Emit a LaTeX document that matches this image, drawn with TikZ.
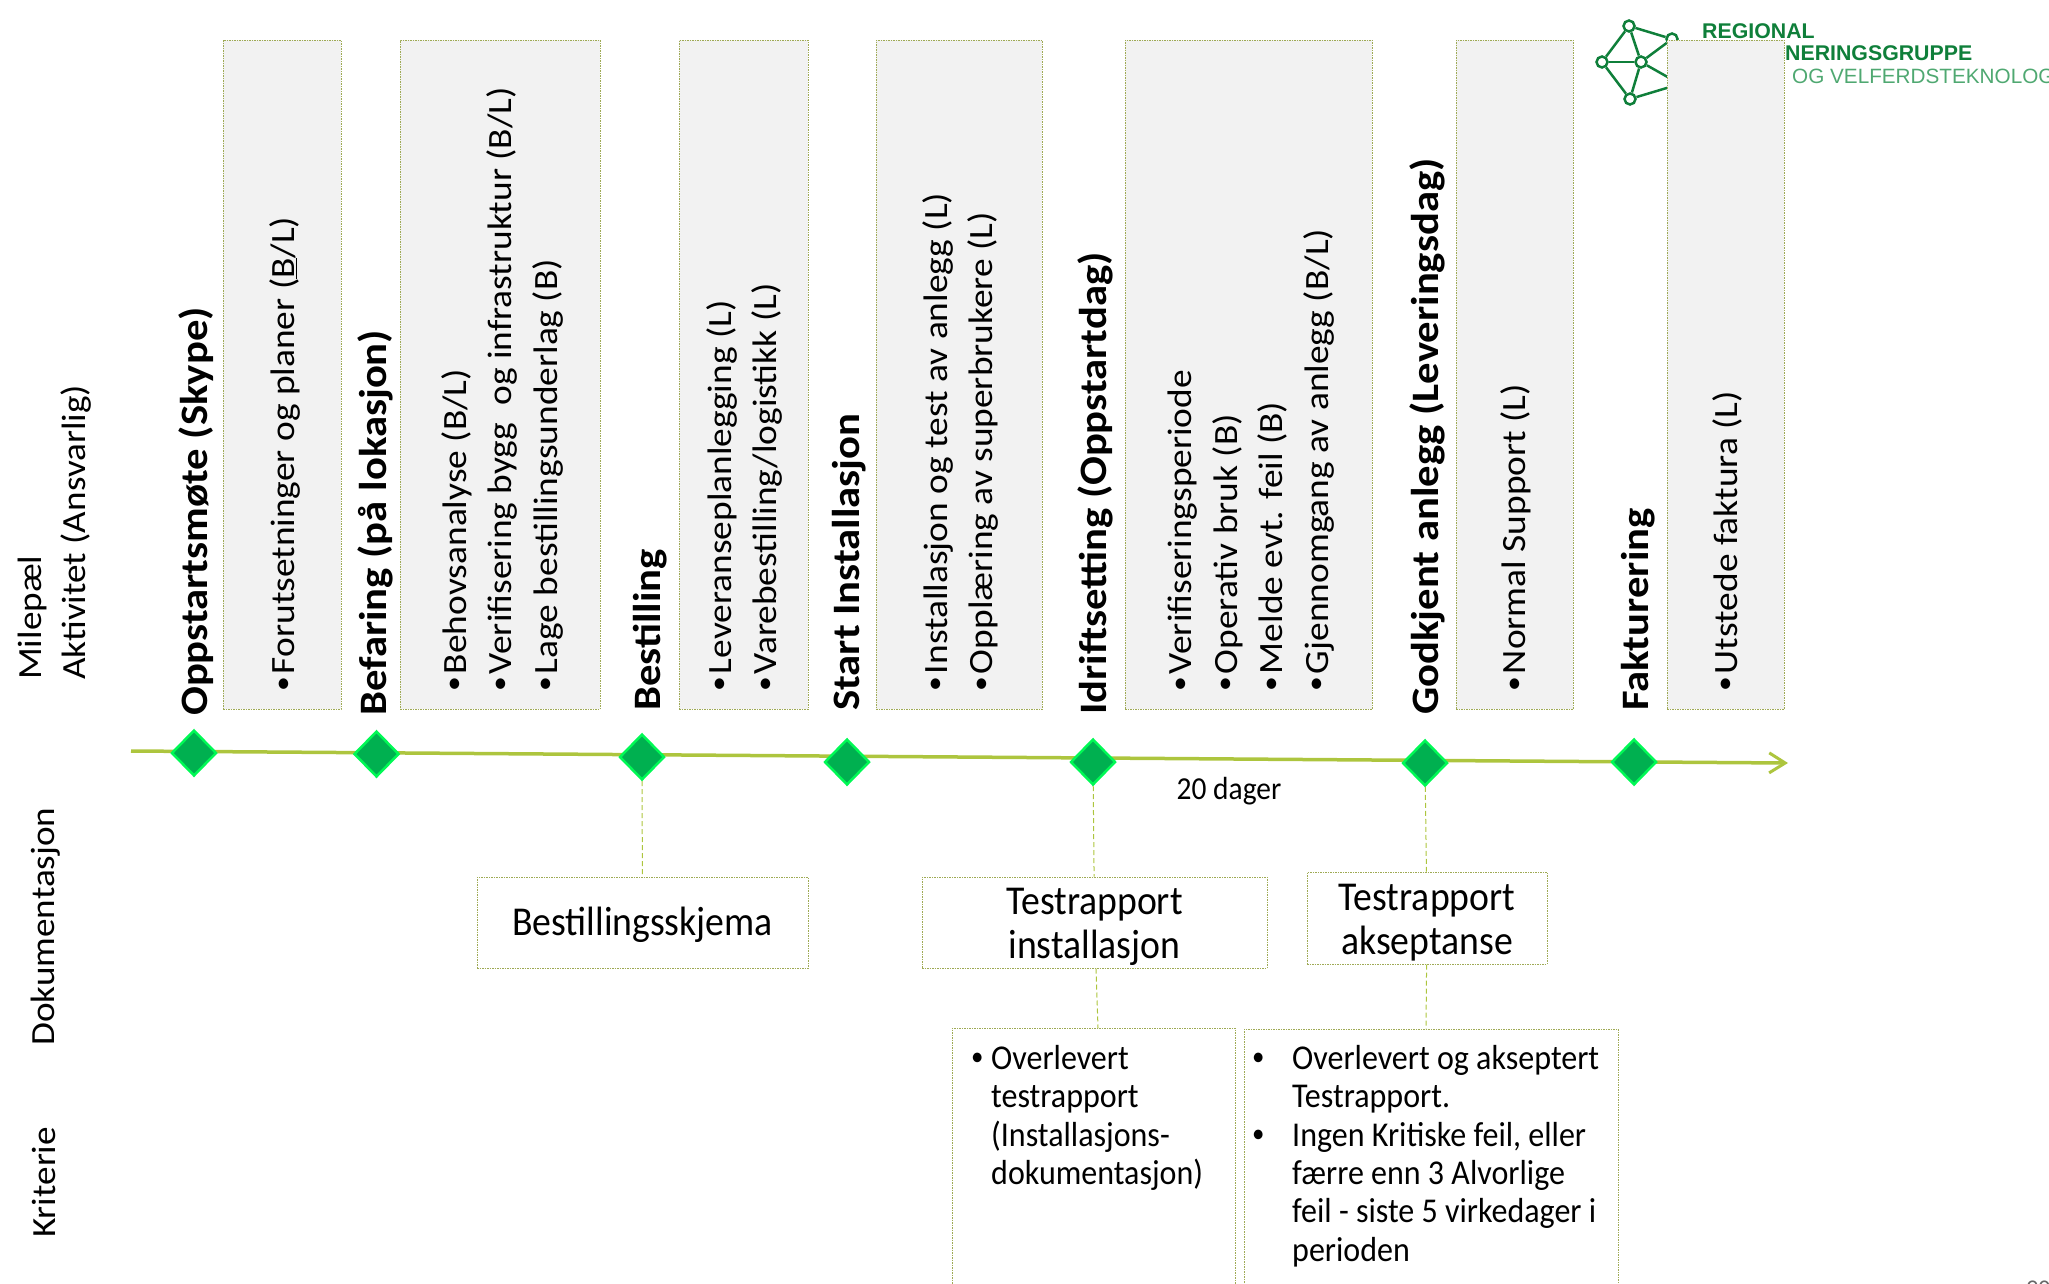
\documentclass[tikz,border=0pt]{standalone}
\usepackage{fontspec}
\setmainfont{Carlito}
\newfontfamily\logofont{Liberation Sans}
\newfontfamily\rotfont[FakeStretch=1.1]{Carlito}
\newfontfamily\flatfont[FakeStretch=0.92]{Carlito}
\usetikzlibrary{shapes.geometric,arrows.meta}
\definecolor{axisgreen}{HTML}{ADC53E}
\definecolor{boxline}{HTML}{9FAA55}
\definecolor{diafill}{HTML}{00B050}
\definecolor{dialine}{HTML}{00F955}
\definecolor{logogreen}{HTML}{0F7F3A}
\definecolor{logolight}{HTML}{4FA871}
\newcommand{\dotmark}{\raisebox{3.5pt}{\fontsize{27}{27}\selectfont\textbullet}}
\newcommand{\blt}{\dotmark\hspace{3pt}}
\newcommand{\itm}{\makebox[40pt][l]{\dotmark}}
\newcommand{\cnt}{\hspace*{40pt}}
\tikzset{
  dotbox/.style={draw=boxline,dash pattern=on 1.5pt off 1pt,line width=1pt,inner sep=0pt},
  aktbox/.style={dotbox,fill=black!5},
  milestone/.style={font=\rotfont\fontsize{38.8}{44}\selectfont\bfseries,rotate=90,anchor=west,inner sep=0pt},
  aktivitet/.style={font=\rotfont\fontsize{34}{45.5}\selectfont,rotate=90,anchor=west,align=left,inner sep=0pt},
  sidelabel/.style={font=\rotfont\fontsize{33.8}{44}\selectfont,rotate=90,anchor=west,align=left,inner sep=0pt},
  dokument/.style={font=\flatfont\fontsize{41}{44.5}\selectfont,align=center,inner sep=0pt},
  kriterie/.style={font=\flatfont\fontsize{34.8}{38.4}\selectfont,align=left,anchor=north west,inner sep=0pt},
  stem/.style={draw=axisgreen,dash pattern=on 5pt off 3pt,line width=1pt}
}
\begin{document}
\begin{tikzpicture}[x=1pt,y=-1pt]

      \useasboundingbox (0,0) rectangle (2049,1283);

      % logo
      \begin{scope}[every node/.style={circle,draw=logogreen,line width=2.5pt,fill=white,inner sep=0pt,minimum size=11pt}]
        \node (n1) at (1629,26) {};
        \node (n2) at (1672,39) {};
        \node (n3) at (1602,62) {};
        \node (n4) at (1641,62) {};
        \node (n5) at (1630,99) {};
      \end{scope}
      \coordinate (n6) at (1680,84);

      \begin{scope}[every edge/.style={draw=logogreen,line width=2.5pt}]
        \path (n1) edge (n2);
        \path (n1) edge (n3);
        \path (n1) edge (n4);
        \path (n3) edge (n4);
        \path (n3) edge (n5);
        \path (n4) edge (n5);
        \path (n4) edge (n2);
        \path (n4) edge (n6);
        \path (n5) edge (n6);
      \end{scope}

      \begin{scope}[every node/.style={anchor=base west,inner sep=0pt}]
        \node[font=\logofont\fontsize{21.3}{21}\selectfont\bfseries,text=logogreen] (logo1) at (1702,38) {REGIONAL};
        \node[font=\logofont\fontsize{21.3}{21}\selectfont\bfseries,text=logogreen] (logo2) at (1785,60) {NERINGSGRUPPE};
        \node[font=\logofont\fontsize{20.7}{21}\selectfont,text=logolight] (logo3) at (1792,83) {OG VELFERDSTEKNOLOG};
      \end{scope}

      % grey boxes
      \begin{scope}[every node/.style={aktbox,minimum height=669pt}]
        \node[minimum width=118pt] (b1) at (282,374.5)  {};
        \node[minimum width=200pt] (b2) at (500,374.5)  {};
        \node[minimum width=129pt] (b3) at (743.5,374.5)  {};
        \node[minimum width=166pt] (b4) at (959,374.5)  {};
        \node[minimum width=247pt] (b5) at (1248.5,374.5)  {};
        \node[minimum width=117pt] (b6) at (1514.5,374.5)  {};
        \node[minimum width=117pt] (b7) at (1725.5,374.5)  {};
      \end{scope}

      % labels on the side
      \node[sidelabel] (lab1) at (55,680) {Milepæl\\Aktivitet (Ansvarlig)};
      \node[sidelabel] (lab2) at (45.5,1046) {Dokumentasjon};
      \node[sidelabel] (lab3) at (44,1238) {Kriterie};

      % milestones
      \begin{scope}[every node/.style={milestone}]
        \node (m1) at (196,716) {Oppstartsmøte (Skype)};
        \node (m2) at (375,716) {Befaring (på lokasjon)};
        \node (m3) at (650,711) {Bestilling};
        \node (m4) at (849.5,711) {Start Installasjon};
        \node (m5) at (1095,715) {Idriftsetting (Oppstartdag)};
        \node (m6) at (1427,715) {Godkjent anlegg (Leveringsdag)};
        \node (m7) at (1638,711) {Fakturering};
      \end{scope}

      % activities
      \begin{scope}[every node/.style={aktivitet}]
        \node (a1) at (285,692) {\blt Forutsetninger og planer (\underline{B}/L)};
        \node (a2) at (502,692) {\blt Behovsanalyse (B/L)\\\blt Verifisering bygg\ \ og infrastruktur (B/L)\\\blt Lage bestillingsunderlag (B)};
        \node (a3) at (744.5,692) {\blt Leveranseplanlegging (L)\\\blt Varebestilling/logistikk (L)};
        \node (a4) at (960.5,692) {\blt Installasjon og test av anlegg (L)\\\blt Opplæring av superbrukere (L)};
        \node (a5) at (1251,692) {\blt Verifiseringsperiode\\\blt Operativ bruk (B)\\\blt Melde evt. feil (B)\\\blt Gjennomgang av anlegg (B/L)};
        \node (a6) at (1516,692) {\blt Normal Support (L)};
        \node (a7) at (1727,692) {\blt Utstede faktura (L)};
      \end{scope}

      % axis
      \coordinate (start) at (131,751);
      \coordinate (end) at (1788,763);
      \draw[draw=axisgreen,line width=3.5pt,-{Straight Barb[length=16pt,width=20pt,line width=3pt]}] (start) -- (end);

      \begin{scope}[every node/.style={diamond,aspect=1,draw=dialine,fill=diafill,line width=2.5pt,inner sep=0pt,minimum width=45pt,minimum height=46pt}]
        \node (d1) at (194,753)  {};
        \node (d2) at (376.5,754)  {};
        \node (d3) at (642,757)  {};
        \node (d4) at (847,762)  {};
        \node (d5) at (1093,762)  {};
        \node (d6) at (1425,763)  {};
        \node (d7) at (1634,762)  {};
      \end{scope}

      \node[font=\flatfont\fontsize{32}{36}\selectfont,inner sep=0pt] (dager) at (1229,791) {20 dager};

      % documents
      \begin{scope}[every node/.style={dotbox}]
        \node[minimum width=331pt,minimum height=91pt] (k1) at (642.5,922.5) {};
        \node[minimum width=345pt,minimum height=91pt] (k2) at (1094.5,922.5) {};
        \node[minimum width=240pt,minimum height=92pt] (k3) at (1427,918) {};
      \end{scope}

      \begin{scope}[every node/.style={dokument}]
        \node (kt1) at (642.5,925) {Bestillingsskjema};
        \node (kt2) at (1094.5,927) {Testrapport\\installasjon};
        \node (kt3) at (1427,922.5) {Testrapport\\akseptanse};
      \end{scope}

      % open criteria boxes
      \begin{scope}[every node/.style={dotbox,minimum height=300pt}]
        \node[minimum width=283pt] (c1) at (1093.5,1178) {};
        \node[minimum width=374pt] (c2) at (1431,1179) {};
      \end{scope}
      \coordinate (c1top) at (1098,1028);
      \coordinate (c2top) at (1426,1029);

      \node[kriterie] (t1) at (971,1045) {\makebox[20pt][l]{\dotmark}Overlevert\\\hspace*{20pt}testrapport\\\hspace*{20pt}(Installasjons-\\\hspace*{20pt}dokumentasjon)};
      \node[kriterie] (t2) at (1252,1045) {\itm Overlevert og akseptert\\\cnt Testrapport.\\\itm Ingen Kritiske feil, eller\\\cnt færre enn 3 Alvorlige\\\cnt feil - siste 5 virkedager i\\\cnt perioden};

      \node[font=\fontsize{24}{24}\selectfont,text=black!60,anchor=base west,inner sep=0pt] (side) at (2026,1296) {90};

      \begin{scope}[every edge/.style={stem}]
        \path (d3)  edge (k1);
        \path (d5)  edge (k2);
        \path (d6)  edge (k3);
        \path (k2)  edge (c1top);
        \path (k3)  edge (c2top);
      \end{scope}

    \end{tikzpicture}
\end{document}
